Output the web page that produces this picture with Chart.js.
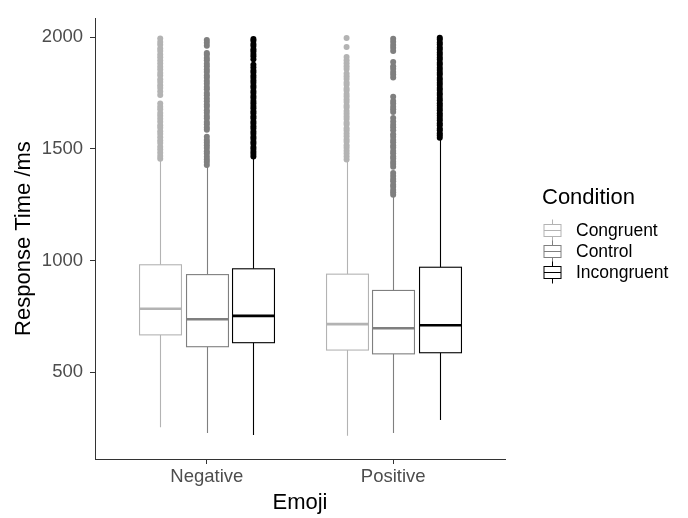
<!DOCTYPE html>
<html>
<head>
<meta charset="utf-8">
<script src="https://cdn.jsdelivr.net/npm/chart.js@4.4.1/dist/chart.umd.min.js"></script>
<style>
  body { margin: 0; background: #fff; }
</style>
</head>
<body>
<canvas id="rtChart" width="688" height="518"></canvas>
<script>
// === response time boxplot ===

const emoji = ['Negative', 'Positive'];
const conditions = ['Congruent', 'Control', 'Incongruent'];
const yTicks = [500, 1000, 1500, 2000];

// box stats, one row per condition, columns = [Negative, Positive]
const whiskerLow = [[253, 215], [227, 227], [219, 286]];
const q1 = [[667, 599], [614, 582], [632, 587]];
const median = [[784, 715], [737, 697], [752, 710]];
const q3 = [[981, 939], [937, 866], [963, 970]];
const whiskerHigh = [[1450, 1448], [1420, 1290], [1460, 1543]];

// outliers
const outNegCongruent = [1456, 1468, 1483, 1497, 1510, 1527, 1538, 1552, 1567, 1579, 1595, 1606, 1622, 1635, 1649, 1661, 1678, 1689, 1703, 1742, 1757, 1773, 1785, 1800, 1812, 1829, 1840, 1856, 1868, 1883, 1896, 1911, 1923, 1939, 1950, 1967, 1979, 1995];
const outNegControl = [1428, 1441, 1453, 1465, 1480, 1489, 1504, 1516, 1529, 1540, 1554, 1586, 1596, 1611, 1621, 1637, 1648, 1662, 1673, 1689, 1699, 1714, 1726, 1740, 1751, 1767, 1777, 1792, 1804, 1819, 1829, 1845, 1856, 1870, 1882, 1897, 1907, 1922, 1930, 1962, 1976, 1988];
const outNegIncongruent = [1466, 1477, 1487, 1500, 1509, 1523, 1532, 1546, 1555, 1568, 1578, 1591, 1601, 1614, 1623, 1637, 1646, 1660, 1669, 1682, 1692, 1705, 1715, 1728, 1737, 1751, 1760, 1774, 1783, 1796, 1806, 1819, 1829, 1842, 1851, 1865, 1877, 1902, 1915, 1925, 1938, 1947, 1961, 1970, 1984, 1992];
const outPosCongruent = [1453, 1466, 1480, 1492, 1505, 1516, 1532, 1542, 1557, 1569, 1582, 1593, 1609, 1618, 1634, 1645, 1658, 1670, 1685, 1695, 1710, 1721, 1735, 1746, 1762, 1771, 1787, 1798, 1813, 1826, 1838, 1858, 1870, 1884, 1897, 1912, 1957, 1997];
const outPosControl = [1295, 1306, 1316, 1331, 1340, 1355, 1365, 1379, 1392, 1420, 1432, 1443, 1457, 1466, 1481, 1491, 1506, 1515, 1530, 1540, 1554, 1566, 1584, 1597, 1608, 1623, 1638, 1665, 1678, 1689, 1704, 1715, 1734, 1820, 1833, 1844, 1859, 1870, 1889, 1939, 1953, 1965, 1980, 1993];
const outPosIncongruent = [1550, 1561, 1570, 1584, 1592, 1606, 1615, 1628, 1638, 1650, 1660, 1673, 1683, 1695, 1705, 1718, 1728, 1741, 1750, 1764, 1773, 1786, 1796, 1809, 1818, 1832, 1841, 1854, 1864, 1877, 1886, 1900, 1909, 1922, 1932, 1945, 1954, 1968, 1977, 1990, 1998];
const outliers = [
    [outNegCongruent, outPosCongruent],
    [outNegControl, outPosControl],
    [outNegIncongruent, outPosIncongruent]
];

// styling
const lineColors = ['#b3b3b3', '#7f7f7f', '#000000'];
const dodge = [-0.25, 0, 0.25];
const boxWidth = 0.225;
const fontFamily = '"Liberation Sans", Arial, sans-serif';
const axisColor = '#333333';
const tickColor = '#4d4d4d';

// Draws whiskers, boxes and medians under the outlier points
const boxPlugin = {
    id: 'boxes',
    beforeDatasetsDraw(chart) {
        const { ctx, scales: { x, y } } = chart;
        const half = (x.getPixelForValue(boxWidth) - x.getPixelForValue(0)) / 2;
        ctx.save();
        conditions.forEach((c, ci) => {
            emoji.forEach((e, ei) => {
                const cx = Math.round(x.getPixelForValue(ei + 1 + dodge[ci])) + 0.5;
                const yLow = y.getPixelForValue(whiskerLow[ci][ei]);
                const yQ1 = y.getPixelForValue(q1[ci][ei]);
                const yMed = y.getPixelForValue(median[ci][ei]);
                const yQ3 = y.getPixelForValue(q3[ci][ei]);
                const yHigh = y.getPixelForValue(whiskerHigh[ci][ei]);
                ctx.strokeStyle = lineColors[ci];
                ctx.lineWidth = 1.1;
                ctx.beginPath();
                ctx.moveTo(cx, yLow); ctx.lineTo(cx, yQ1);
                ctx.moveTo(cx, yQ3); ctx.lineTo(cx, yHigh);
                ctx.stroke();
                ctx.fillStyle = '#fff';
                ctx.fillRect(cx - half, yQ3, half * 2, yQ1 - yQ3);
                ctx.strokeRect(cx - half, yQ3, half * 2, yQ1 - yQ3);
                ctx.lineWidth = 2.6;
                ctx.beginPath();
                ctx.moveTo(cx - half, yMed); ctx.lineTo(cx + half, yMed);
                ctx.stroke();
            });
        });
        ctx.restore();
    }
};

// Draws the ggplot-style legend on the right
const legendPlugin = {
    id: 'boxLegend',
    afterDraw(chart) {
        const { ctx } = chart;
        const left = 542;
        ctx.save();
        ctx.fillStyle = '#000';
        ctx.font = '22px ' + fontFamily;
        ctx.textBaseline = 'alphabetic';
        ctx.textAlign = 'left';
        ctx.fillText('Condition', left, 203.5);
        conditions.forEach((c, i) => {
            const cy = 230.5 + i * 21;
            const kx = left + 10;
            ctx.strokeStyle = lineColors[i];
            ctx.lineWidth = 1;
            ctx.beginPath();
            ctx.moveTo(kx + 0.5, cy - 11); ctx.lineTo(kx + 0.5, cy + 11);
            ctx.stroke();
            ctx.fillStyle = '#fff';
            ctx.fillRect(kx - 8, cy - 6, 17, 12);
            ctx.strokeRect(kx - 8, cy - 6, 17, 12);
            ctx.beginPath();
            ctx.moveTo(kx - 8, cy); ctx.lineTo(kx + 9, cy);
            ctx.stroke();
            ctx.fillStyle = '#000';
            ctx.font = '17.5px ' + fontFamily;
            ctx.textBaseline = 'middle';
            ctx.fillText(c, 576, cy + 1);
        });
        ctx.restore();
    }
};

const datasets = conditions.map((c, ci) => ({
    label: c,
    data: emoji.flatMap((e, ei) =>
        outliers[ci][ei].map(v => ({ x: ei + 1 + dodge[ci], y: v }))),
    backgroundColor: lineColors[ci],
    borderWidth: 0,
    pointRadius: 3,
    pointHoverRadius: 3
}));

new Chart(document.getElementById('rtChart').getContext('2d'), {
    type: 'scatter',
    data: { datasets },
    options: {
        responsive: false,
        animation: false,
        events: [],
        layout: { padding: { top: 14, right: 183, left: 0, bottom: 0 } },
        plugins: {
            legend: { display: false },
            tooltip: { enabled: false }
        },
        scales: {
            x: {
                type: 'linear',
                min: 0.4,
                max: 2.6,
                afterBuildTicks: s => { s.ticks = emoji.map((e, i) => ({ value: i + 1 })); },
                afterFit: s => { s.height = 59; },
                ticks: {
                    callback: v => emoji[v - 1],
                    color: tickColor,
                    font: { family: fontFamily, size: 18.5 },
                    padding: 2,
                    maxRotation: 0
                },
                grid: { drawOnChartArea: false, tickLength: 5, tickColor: axisColor, tickWidth: 1 },
                border: { color: axisColor, width: 1 },
                title: {
                    display: true,
                    text: 'Emoji',
                    color: '#000',
                    font: { family: fontFamily, size: 22 },
                    padding: { top: 0, bottom: 2 }
                }
            },
            y: {
                min: 111,
                max: 2086,
                afterBuildTicks: s => { s.ticks = yTicks.map(v => ({ value: v })); },
                afterFit: s => { s.width = 95; },
                ticks: {
                    callback: v => String(v),
                    color: tickColor,
                    font: { family: fontFamily, size: 18.5 },
                    padding: 7
                },
                grid: { drawOnChartArea: false, tickLength: 5, tickColor: axisColor, tickWidth: 1 },
                border: { color: axisColor, width: 1 },
                title: {
                    display: true,
                    text: 'Response Time /ms',
                    color: '#000',
                    font: { family: fontFamily, size: 22 },
                    padding: { top: 11, bottom: 0 }
                }
            }
        }
    },
    plugins: [boxPlugin, legendPlugin]
});
</script>
</body>
</html>
